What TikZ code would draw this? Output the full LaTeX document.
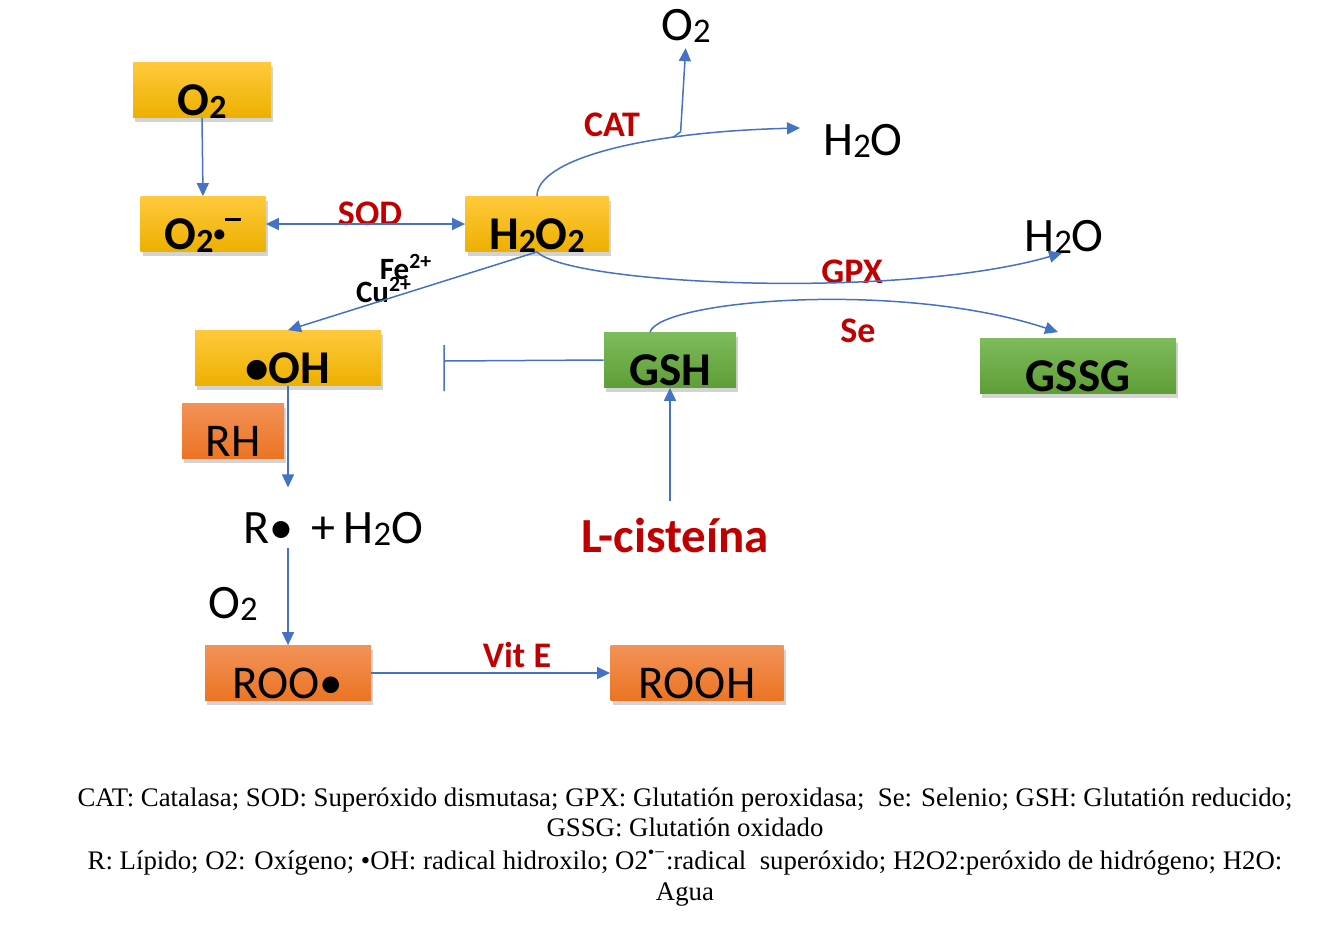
\documentclass[tikz,border=0pt]{standalone}
\usepackage{fontspec}
\setmainfont{Liberation Serif}
\newfontfamily\carlito{Carlito}
\usetikzlibrary{arrows.meta,shadows}
\definecolor{lineblue}{HTML}{4472C4}
\definecolor{darkred}{HTML}{C00000}
\definecolor{goldtop}{HTML}{FFC93C}
\definecolor{goldbot}{HTML}{EDB000}
\definecolor{greentop}{HTML}{7EBB5C}
\definecolor{greenbot}{HTML}{5E9E36}
\definecolor{orangetop}{HTML}{F39258}
\definecolor{orangebot}{HTML}{EB7424}
\newcommand\low[1]{\raisebox{-0.12ex}{\scalebox{0.72}{#1}}}
\newcommand\radminus{\raisebox{.18em}{\scalebox{.5}{•}}\rule[.6em]{.34em}{.06em}}

\begin{document}
\begin{tikzpicture}[x=0.5pt,y=-0.5pt,>={Triangle[length=6.5pt,width=6pt]},
  flow/.style={draw=lineblue,line width=0.75pt},
  box/.style={minimum height=27.5pt,inner sep=0pt,text height=25.5pt,text depth=0pt,
    drop shadow={shadow xshift=1.2pt,shadow yshift=-2pt,opacity=.35}},
  gold/.style={box,top color=goldtop,bottom color=goldbot,font=\carlito\bfseries\fontsize{23.5}{23.5}\selectfont},
  grn/.style={box,top color=greentop,bottom color=greenbot,font=\carlito\bfseries\fontsize{23.5}{23.5}\selectfont},
  orng/.style={box,top color=orangetop,bottom color=orangebot,font=\carlito\fontsize{23.5}{23.5}\selectfont},
  chem/.style={inner sep=0pt,anchor=base,font=\carlito\fontsize{24}{24}\selectfont},
  enz/.style={inner sep=0pt,anchor=base,text=darkred,font=\carlito\bfseries\fontsize{18}{18}\selectfont},
  ion/.style={inner sep=0pt,anchor=base,font=\carlito\bfseries\fontsize{15.5}{15.5}\selectfont},
  note/.style={inner sep=0pt,anchor=base,font=\fontsize{13.4}{16}\selectfont}]
\useasboundingbox (0,0) rectangle (1344,928);

% boxes
\node[gold,minimum width=69pt] (o2) at (202,90) {O\low{2}};
\node[gold,minimum width=62.5pt] (sup) at (203,224) {O\low{2}\radminus};
\node[gold,minimum width=71.5pt] (h2o2) at (537,224) {H\low{2}O\low{2}};
\node[gold,minimum width=93pt] (oh) at (288,358) {•OH};
\node[orng,minimum width=51pt] (rh) at (233,431) {RH};
\node[grn,minimum width=66pt] (gsh) at (670,360) {GSH};
\node[grn,minimum width=98pt] (gssg) at (1078,366) {GSSG};
\node[orng,minimum width=83pt] (roo) at (288,673) {ROO•};
\node[orng,minimum width=86.5pt] (rooh) at (697,673) {ROOH};

% free species and labels
\node[chem] (o2out) at (686,40) {O\low{2}};
\node[chem] (h2oa) at (863,155) {H\low{2}O};
\node[chem] (h2ob) at (1064,251) {H\low{2}O};
\node[chem] (rw) at (333,543) {R•\ \,+\,H\low{2}O};
\node[chem] (o2in) at (233,618) {O\low{2}};
\node[inner sep=0pt,anchor=base,text=darkred,font=\carlito\bfseries\fontsize{24.5}{24.5}\selectfont] (lcys) at (675,552) {L-cisteína};
\node[enz] (cat) at (612,136) {CAT};
\node[enz] (sod) at (370,225) {SOD};
\node[enz] (gpx) at (852,283) {GPX};
\node[enz] (se) at (858,342) {Se};
\node[enz] (vite) at (517,667) {Vit E};
\node[ion] (fe) at (406,279) {Fe\textsuperscript{2+}};
\node[ion] (cu) at (384,302) {Cu\textsuperscript{2+}};

\coordinate (catend) at (800,128);
\coordinate (gpxend) at (1062,253);
\coordinate (block) at (444,361);

% connectors
\draw[flow,->] (o2.south) -- (sup.north);
\draw[flow,<->] (sup) -- (h2o2);
\draw[flow,->] (h2o2.north) .. controls (537,160) and (640,132) .. coordinate[pos=.7] (catfork) (catend);
\draw[flow,->,shorten >=2.5pt] (catfork) -- ++(8,-6) -- (o2out.south);
\draw[flow,->] (h2o2.south) .. controls (570,285) and (900,300) .. (gpxend);
\draw[flow,->] (h2o2.south) -- (oh.north);
\draw[flow,->] ([xshift=-10pt]gsh.north) .. controls (660,300) and (900,280) .. ([xshift=-10pt,yshift=3pt]gssg.north);
\draw[flow] (gsh.west) -- (block) ++(0,-16) -- ++(0,46);
\draw[flow,->,shorten >=12pt] (oh.south) -- (oh.south |- rw.north);
\draw[flow,->,shorten <=1pt] (rw.south -| roo.north) -- (roo.north);
\draw[flow,->,shorten <=8pt] (lcys.north -| gsh.south) -- (gsh.south);
\draw[flow,->] (roo) -- (rooh);

% legend
\node[note] (leg1) at (685,806) {CAT: Catalasa; SOD: Superóxido dismutasa; GPX: Glutatión peroxidasa;\ \ Se: Selenio; GSH: Glutatión reducido;};
\node[note] (leg2) at (685,836) {GSSG: Glutatión oxidado};
\node[note] (leg3) at (685,869) {R: Lípido; O2: Oxígeno; •OH: radical hidroxilo; O2\textsuperscript{•−}:radical\ \ superóxido; H2O2:peróxido de hidrógeno; H2O:};
\node[note] (leg4) at (685,900) {Agua};
\end{tikzpicture}
\end{document}
